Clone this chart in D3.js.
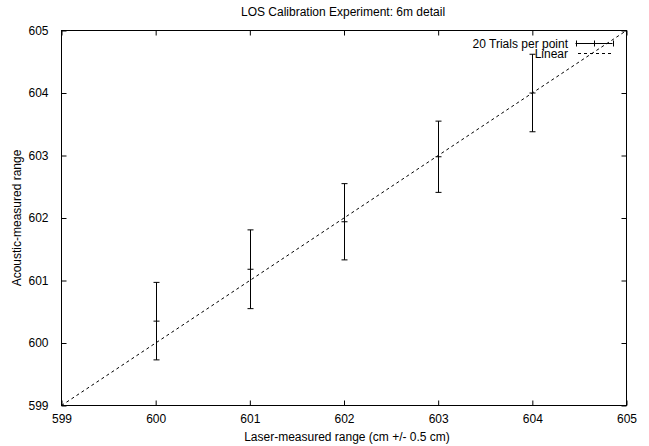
<!DOCTYPE html>
<html>
<head>
<meta charset="utf-8">
<script src="https://cdn.jsdelivr.net/npm/d3@7"></script>
<style>
  html, body { margin: 0; padding: 0; background: #fff; }
  svg { display: block; }
  text { font-family: "Liberation Sans", Arial, Helvetica, sans-serif; font-size: 12px; fill: #000; }
</style>
</head>
<body>
<svg id="chart" width="649" height="446"></svg>
<script>
// Laser reference range (cm) and acoustic measurements: mean and spread over 20 trials
const laserRange = [600, 601, 602, 603, 604];
const acousticMean = [600.35, 601.18, 601.94, 602.98, 604.00];
const acousticErr = [0.62, 0.63, 0.61, 0.57, 0.62];

// Ideal 1:1 reference line
const linearX = [599, 605];

const xTicks = [599, 600, 601, 602, 603, 604, 605];
const yTicks = [599, 600, 601, 602, 603, 604, 605];

const titleText = "LOS Calibration Experiment: 6m detail";
const xLabelText = "Laser-measured range (cm +/- 0.5 cm)";
const yLabelText = "Acoustic-measured range";
const seriesLabel = "20 Trials per point";
const linearLabel = "Linear";

const svg = d3.select("#chart");
const plotL = 61.5, plotR = 626.5, plotT = 30.5, plotB = 405.5;
const fontSize = 12;

const x = d3.scaleLinear().domain([599, 605]).range([plotL, plotR]);
const y = d3.scaleLinear().domain([599, 605]).range([plotB, plotT]);

const tickLen = 5;

// Frame
svg.append("rect")
  .attr("x", plotL).attr("y", plotT)
  .attr("width", plotR - plotL).attr("height", plotB - plotT)
  .attr("fill", "none").attr("stroke", "#000").attr("stroke-width", 1);

// Axes: inward ticks, mirrored on the opposite side
const xAxisB = d3.axisBottom(x).tickValues(xTicks).tickSizeInner(-tickLen).tickSizeOuter(0).tickPadding(9).tickFormat(d3.format("d"));
const xAxisT = d3.axisTop(x).tickValues(xTicks).tickSizeInner(-tickLen).tickSizeOuter(0).tickFormat("");
const yAxisL = d3.axisLeft(y).tickValues(yTicks).tickSizeInner(-tickLen).tickSizeOuter(0).tickPadding(13).tickFormat(d3.format("d"));
const yAxisR = d3.axisRight(y).tickValues(yTicks).tickSizeInner(-tickLen).tickSizeOuter(0).tickFormat("");

function styleAxis(g) {
  g.select(".domain").remove();
  g.selectAll(".tick line").attr("stroke", "#000");
  g.selectAll(".tick text").attr("font-size", fontSize).attr("font-family", null).attr("fill", "#000");
}

svg.append("g").attr("transform", `translate(0,${plotB})`).call(xAxisB).call(styleAxis);
svg.append("g").attr("transform", `translate(0,${plotT})`).call(xAxisT).call(styleAxis);
svg.append("g").attr("transform", `translate(${plotL},0)`).call(yAxisL).call(styleAxis);
svg.append("g").attr("transform", `translate(${plotR},0)`).call(yAxisR).call(styleAxis);

// Linear reference
const line = d3.line().x(d => x(d)).y(d => y(d));
svg.append("path")
  .attr("d", line(linearX))
  .attr("fill", "none")
  .attr("stroke", "#000")
  .attr("stroke-width", 1)
  .attr("stroke-dasharray", "3,3");

// Error bars
const capW = 3;
const bars = svg.append("g").attr("stroke", "#000").attr("stroke-width", 1);
laserRange.forEach((lx, i) => {
  const cx = Math.round(x(lx)) + 0.5;
  const yHi = y(acousticMean[i] + acousticErr[i]);
  const yLo = y(acousticMean[i] - acousticErr[i]);
  const yc = y(acousticMean[i]);
  bars.append("line").attr("x1", cx).attr("x2", cx).attr("y1", yHi).attr("y2", yLo);
  bars.append("line").attr("x1", cx - capW).attr("x2", cx + capW).attr("y1", yHi).attr("y2", yHi);
  bars.append("line").attr("x1", cx - capW).attr("x2", cx + capW).attr("y1", yLo).attr("y2", yLo);
  // point marker "+"
  bars.append("line").attr("x1", cx - 3).attr("x2", cx + 3).attr("y1", yc).attr("y2", yc);
});

// Key
const keyTextX = 568;
const keySampleX1 = 575.5, keySampleX2 = 612.5;
const keyY1 = 43.5, keyY2 = 53.5;
svg.append("text").attr("x", keyTextX).attr("y", keyY1 + 4).attr("text-anchor", "end").text(seriesLabel);
const keyG = svg.append("g").attr("stroke", "#000").attr("stroke-width", 1);
keyG.append("line").attr("x1", keySampleX1).attr("x2", keySampleX2).attr("y1", keyY1).attr("y2", keyY1);
[keySampleX1, (keySampleX1 + keySampleX2) / 2, keySampleX2].forEach(kx => {
  const kxx = Math.round(kx) + 0.5;
  keyG.append("line").attr("x1", kxx).attr("x2", kxx).attr("y1", keyY1 - 3).attr("y2", keyY1 + 3);
});
svg.append("text").attr("x", keyTextX).attr("y", keyY2 + 4).attr("text-anchor", "end").text(linearLabel);
keyG.append("line").attr("x1", 578).attr("x2", keySampleX2).attr("y1", keyY2).attr("y2", keyY2)
  .attr("stroke-dasharray", "3,3");

// Titles
svg.append("text").attr("x", 343).attr("y", 16).attr("text-anchor", "middle").attr("font-size", 11).text(titleText);
svg.append("text").attr("x", 347).attr("y", 441).attr("text-anchor", "middle").attr("font-size", 10.5).text(xLabelText);
svg.append("text")
  .attr("transform", `translate(21,${(plotT + plotB) / 2}) rotate(-90)`)
  .attr("text-anchor", "middle")
  .text(yLabelText);
</script>
</body>
</html>
